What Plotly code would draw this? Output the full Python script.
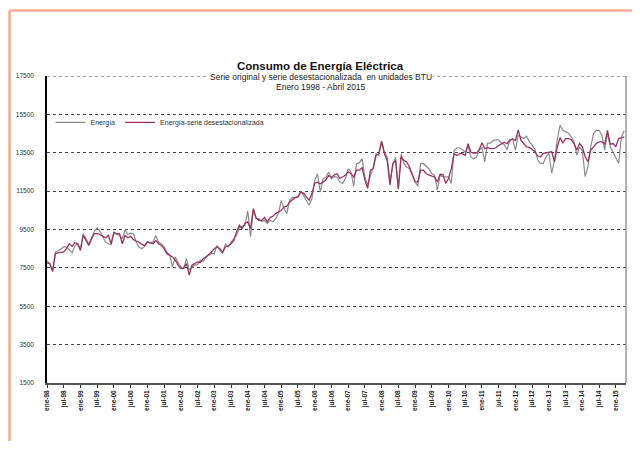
import plotly.graph_objects as go

# Monthly series, Jan 1998 - Apr 2015 (index 0 = ene-98)
energia = [
    7860, 7720, 7290, 8330, 8380, 8500, 8590, 8590, 8450, 8280, 8640, 8760,
    8500, 9280, 9020, 8760, 9100, 9410, 9590, 9410, 9140, 8840, 8760, 8710,
    9310, 9240, 9190, 9020, 9480, 9240, 9310, 9280, 8840, 8590, 8500, 8620,
    8880, 8810, 8840, 9190, 8840, 8760, 8590, 8330, 8160, 7550, 8070, 7780,
    7550, 7470, 7980, 7380, 7550, 7640, 7670, 7900, 7840, 8070, 8160, 8240,
    8240, 8670, 8410, 8240, 8760, 8590, 8840, 9020, 9190, 9620, 9670, 9720,
    10470, 9120, 10500, 10050, 10070, 9900, 9980, 9810, 9980, 9900, 10070, 10330,
    11020, 10590, 10330, 11020, 11160, 11160, 11220, 11500, 11280, 11020, 10760, 11100,
    12050, 12400, 11450, 12140, 12220, 12480, 12140, 12260, 12240, 11980, 11900, 12160,
    12670, 12500, 11760, 12930, 12970, 13190, 12240, 11810, 12330, 12760, 13450, 13360,
    14050, 13530, 13280, 11980, 12840, 13280, 11590, 13450, 12930, 12760, 12670, 12330,
    11980, 11760, 12930, 12930, 12800, 12670, 12410, 12330, 11550, 12330, 12240, 12240,
    12240, 11900, 13620, 13760, 13760, 13660, 13530, 13880, 13280, 13190, 13280, 13620,
    13790, 13020, 14000, 14000, 14140, 14170, 14170, 14000, 13930, 13660, 14140, 14220,
    13620, 14400, 14310, 14240, 14360, 14070, 13900, 13670, 13120, 12950, 12950, 13290,
    13470, 12430, 13100, 14200, 14930, 14670, 14590, 14530, 14330, 14070, 13380, 13810,
    13600, 12260, 12780, 13810, 14500, 14670, 14670, 14410, 13640, 14500, 13810, 13550,
    13290, 12950, 14330, 14640,
]
desest = [
    7760, 7720, 7330, 8240, 8280, 8290, 8330, 8500, 8760, 8620, 8810, 8760,
    8410, 9190, 8900, 8670, 9020, 9280, 9280, 9240, 9140, 9070, 9190, 8760,
    9360, 9280, 9280, 8760, 9190, 9070, 9140, 8970, 8900, 8840, 8720, 8660,
    8840, 8810, 8760, 8930, 8760, 8670, 8500, 8240, 8160, 8070, 7900, 7640,
    7470, 7470, 7720, 7120, 7640, 7720, 7810, 7780, 7980, 8070, 8190, 8330,
    8500, 8590, 8500, 8330, 8590, 8640, 8760, 8930, 9400, 9720, 9550, 9810,
    9900, 9550, 10590, 10100, 9980, 9980, 10120, 9900, 10120, 10190, 10330, 10410,
    10500, 10670, 10710, 10930, 11050, 11160, 11190, 11450, 11400, 11220, 11020, 11360,
    11910, 11970, 11880, 11970, 12090, 12310, 12220, 12340, 12410, 12160, 12240, 12330,
    12500, 12410, 12240, 12590, 12590, 12720, 12070, 11640, 12590, 12670, 13360, 13450,
    14100, 13450, 13100, 11810, 12930, 13100, 11640, 13280, 13100, 13020, 12760, 12400,
    12000, 11980, 12590, 12590, 12420, 12330, 12280, 12240, 11980, 12380, 12360, 11900,
    12160, 12670, 13450, 13360, 13450, 13450, 13360, 13970, 13530, 13480, 13480, 13660,
    14020, 13710, 13760, 13710, 13710, 13760, 13880, 13970, 14050, 13970, 14170, 14220,
    14140, 14690, 14140, 13970, 13800, 13780, 13670, 13550, 13330, 13290, 13470, 13500,
    13530, 13550, 13030, 13800, 14290, 14020, 14240, 14240, 14190, 13980, 13640, 13980,
    13810, 13290, 13030, 13640, 13810, 13980, 14070, 14070, 13950, 14670, 13950, 13980,
    13810, 14240, 14280, 14330,
]
month_idx = list(range(len(energia)))
tick_pos = list(range(0, 205, 6))
tick_labels = []
for k, p in enumerate(tick_pos):
    yy = (98 + p // 12) % 100
    tick_labels.append(("ene-" if k % 2 == 0 else "jul-") + f"{yy:02d}")
y_ticks = list(range(1500, 17501, 2000))
y_labels = [str(v) for v in y_ticks]

fig = go.Figure()
fig.add_trace(go.Scatter(x=month_idx, y=energia, mode="lines", name="Energía",
                         line=dict(color="#8c8c8c", width=1.2)))
fig.add_trace(go.Scatter(x=month_idx, y=desest, mode="lines",
                         name="Energía-serie desestacionalizada",
                         line=dict(color="#993366", width=1.3)))

OFF = 8  # page body margin
W, H = 640 - 2 * OFF, 449 - 2 * OFF
L, R, T, B = 46.5 - OFF, 626 - OFF, 75.6 - OFF, 382.7 - OFF

def px_x(px):
    return (px - OFF - L) / (R - L)

def px_y(py):
    return (B - (py - OFF)) / (B - T)

fig.update_layout(
    width=W, height=H,
    margin=dict(l=L, r=W - R, t=T, b=H - B, pad=0, autoexpand=False),
    paper_bgcolor="white", plot_bgcolor="white",
    font=dict(family="Liberation Sans, Arial, sans-serif", color="#222"),
    showlegend=True,
    legend=dict(orientation="h", x=px_x(50), y=px_y(122), xanchor="left", yanchor="middle",
                font=dict(size=7, color="#333"), bgcolor="rgba(0,0,0,0)",
                itemwidth=30, tracegroupgap=0),
    xaxis=dict(range=[0, 207.65], tickmode="array", tickvals=tick_pos, ticktext=tick_labels,
               tickangle=-90, automargin=False,
               tickfont=dict(size=6.5, color="#222", family="Liberation Sans, Arial", weight="bold"),
               ticks="outside", ticklen=3, tickcolor="#333", showgrid=False, zeroline=False,
               showline=True, linecolor="#555", linewidth=1.5),
    yaxis=dict(range=[1500, 17500], tickmode="array", tickvals=y_ticks, ticktext=y_labels,
               automargin=False,
               tickfont=dict(size=6.5, color="#333"), ticks="", ticklabelstandoff=10,
               showgrid=True, gridcolor="#444", griddash="dot", gridwidth=1,
               zeroline=False, showline=True, linecolor="#000", linewidth=1.5),
    annotations=[
        dict(text="<b>Consumo de Energía Eléctrica</b>", xref="paper", yref="paper",
             x=px_x(320), y=px_y(66), xanchor="center", yanchor="middle",
             showarrow=False, font=dict(size=11.5, color="#111")),
        dict(text="Serie original y serie desestacionalizada  en unidades BTU", xref="paper",
             yref="paper", x=px_x(321), y=px_y(77), xanchor="center", yanchor="middle",
             showarrow=False, bgcolor="white",
             borderpad=0, font=dict(size=8.5, color="#222")),
        dict(text="Enero 1998 - Abril 2015", xref="paper", yref="paper",
             x=px_x(321), y=px_y(87), xanchor="center", yanchor="middle",
             showarrow=False, font=dict(size=8.5, color="#222")),
    ],
    shapes=[
        dict(type="line", xref="paper", yref="y", x0=0, x1=1, y0=y_ticks[-1], y1=y_ticks[-1],
             line=dict(color="#444", width=1, dash="dot")),
        dict(type="line", xref="paper", yref="paper", x0=1, x1=1, y0=0, y1=1,
             line=dict(color="#999", width=1.5)),
        dict(type="line", xref="paper", yref="paper", x0=px_x(9), x1=px_x(660),
             y0=px_y(10), y1=px_y(10), line=dict(color="#f5ad92", width=2.5)),
        dict(type="line", xref="paper", yref="paper", x0=px_x(9), x1=px_x(9),
             y0=px_y(10), y1=px_y(470), line=dict(color="#f5ad92", width=2.5)),
    ],
)

fig.write_html("out.html")
